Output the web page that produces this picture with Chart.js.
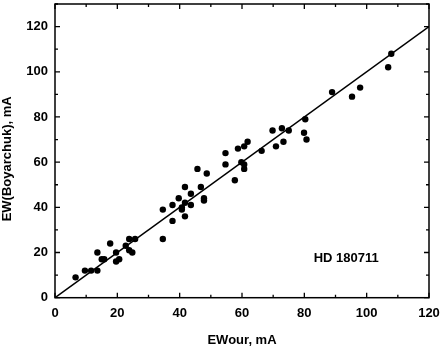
<!DOCTYPE html>
<html>
<head>
<meta charset="utf-8">
<script src="https://cdn.jsdelivr.net/npm/chart.js@4.4.1/dist/chart.umd.min.js"></script>
<style>
  html, body { margin: 0; padding: 0; background: #fff; }
  #wrap { width: 443px; height: 347px; }
</style>
</head>
<body>
<div id="wrap"><canvas id="c"></canvas></div>
<script>
const ewOur = [6.6, 9.6, 11.6, 13.6, 13.6, 15.0, 15.8, 17.7, 19.6, 19.6, 20.6, 22.7, 23.8, 23.8, 24.8, 25.7,
  34.6, 34.6, 37.7, 37.7, 39.7, 40.7, 40.7, 41.7, 41.7, 41.7, 43.6, 43.6, 45.7, 46.8, 47.8, 47.8, 48.7,
  54.7, 54.7, 57.7, 58.7, 59.8, 60.7, 60.7, 60.7, 61.8, 66.3, 69.8, 70.9, 72.8, 73.3, 75.0,
  79.9, 80.3, 80.7, 88.9, 95.3, 97.9, 106.9, 107.9];
const ewBoyarchuk = [9, 12, 12, 12, 20, 17, 17, 24, 20, 16, 17, 23, 26, 21, 20, 26,
  26, 39, 41, 34, 44, 40, 39, 42, 49, 36, 41, 46, 57, 49, 44, 43, 55,
  64, 59, 52, 66, 60, 59, 57, 67, 69, 65, 74, 67, 75, 69, 74,
  73, 79, 70, 91, 89, 93, 102, 108];

// one-to-one line
const lineX = [0, 120];
const lineY = [0, 120];

const xTicks = [0, 20, 40, 60, 80, 100, 120];
const yTicks = [0, 20, 40, 60, 80, 100, 120];
const minorStep = 10;

const starName = 'HD 180711';
const xTitle = 'EWour, mA';
const yTitle = 'EW(Boyarchuk), mA';

const FONT = 'bold 13px "Liberation Sans", Arial, sans-serif';

const framePlugin = {
  id: 'frame',
  afterDatasetsDraw(chart) {
    const ctx = chart.ctx;
    const a = chart.chartArea;
    const xs = chart.scales.x, ys = chart.scales.y;
    ctx.save();
    ctx.strokeStyle = '#000';
    ctx.lineWidth = 1.5;
    ctx.strokeRect(a.left, a.top, a.right - a.left, a.bottom - a.top);

    // inward ticks on all four sides
    ctx.lineWidth = 1.3;
    ctx.beginPath();
    for (let v = xs.min; v <= xs.max; v += minorStep) {
      const px = xs.getPixelForValue(v);
      const len = v % 20 === 0 ? 5 : 3;
      ctx.moveTo(px, a.bottom); ctx.lineTo(px, a.bottom - len);
      ctx.moveTo(px, a.top); ctx.lineTo(px, a.top + len);
    }
    for (let v = ys.min; v <= ys.max; v += minorStep) {
      const py = ys.getPixelForValue(v);
      const len = v % 20 === 0 ? 5 : 3;
      ctx.moveTo(a.left, py); ctx.lineTo(a.left + len, py);
      ctx.moveTo(a.right, py); ctx.lineTo(a.right - len, py);
    }
    ctx.stroke();

    // star label
    ctx.fillStyle = '#000';
    ctx.font = FONT;
    ctx.textAlign = 'left';
    ctx.textBaseline = 'middle';
    ctx.fillText(starName, xs.getPixelForValue(83), ys.getPixelForValue(17.3));

    // y axis title
    ctx.translate(7, (a.top + a.bottom) / 2 + 8);
    ctx.rotate(-Math.PI / 2);
    ctx.textAlign = 'center';
    ctx.fillText(yTitle, 0, 0);
    ctx.restore();
  }
};

const tickFont = { family: '"Liberation Sans", Arial, sans-serif', size: 13, weight: 'bold' };

new Chart(document.getElementById('c'), {
  data: {
    datasets: [
      {
        type: 'line',
        data: lineX.map((x, i) => ({ x, y: lineY[i] })),
        borderColor: '#000',
        borderWidth: 1.5,
        pointRadius: 0,
        fill: false
      },
      {
        type: 'scatter',
        data: ewOur.map((x, i) => ({ x, y: ewBoyarchuk[i] })),
        backgroundColor: '#000',
        borderWidth: 0,
        pointRadius: 3.2
      }
    ]
  },
  options: {
    responsive: true,
    maintainAspectRatio: false,
    animation: false,
    layout: { padding: { top: 1.5, right: 14, left: 0, bottom: 0 } },
    plugins: { legend: { display: false }, tooltip: { enabled: false } },
    scales: {
      x: {
        type: 'linear',
        min: 0,
        max: 120,
        grid: { display: false, drawTicks: false },
        border: { display: false },
        afterBuildTicks: s => { s.ticks = xTicks.map(v => ({ value: v })); },
        afterFit: s => { s.height = 49.3; s.paddingLeft = 0; s.paddingRight = 0; },
        ticks: { color: '#000', font: tickFont, padding: 8, maxRotation: 0, autoSkip: false },
        title: {
          display: true,
          text: xTitle,
          color: '#000',
          font: { ...tickFont, lineHeight: 1 },
          padding: { top: 0, bottom: 0 }
        }
      },
      y: {
        type: 'linear',
        min: 0,
        max: 130,
        grid: { display: false, drawTicks: false },
        border: { display: false },
        afterBuildTicks: s => { s.ticks = yTicks.map(v => ({ value: v })); },
        afterFit: s => { s.width = 55; s.paddingTop = 0; s.paddingBottom = 0; },
        ticks: { color: '#000', font: tickFont, padding: 7, autoSkip: false }
      }
    }
  },
  plugins: [framePlugin]
});
</script>
</body>
</html>
